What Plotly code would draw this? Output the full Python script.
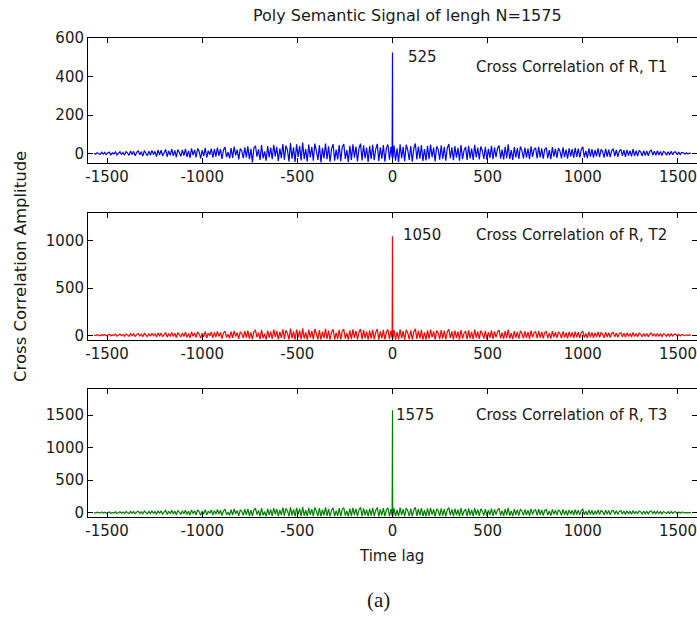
import plotly.graph_objects as go

W, H = 697, 617

# ---------------- data ----------------
title = "Poly Semantic Signal of lengh N=1575"
series_names = ["Cross Correlation of R, T1", "Cross Correlation of R, T2", "Cross Correlation of R, T3"]
peak_labels = ["525", "1050", "1575"]
colors = ["#0000ff", "#ff0000", "#008000"]

noise_left_lags = list(range(-1568, 0, 8))      # 196 lags
noise_right_lags = list(range(8, 1569, 8))      # 196 lags
center_lags = [-2, -1, 0, 1, 2]

t1_left = [2, -3, 5, 1, -4, 7, -2, 6, -5, 3, 8, -6, 4, -1, 9, -7, 5, 10, -4, 6,
           -8, 11, 3, -9, 14, -5, 12, -11, 7, 15, -6, 10, -13, 16, 2, -10, 13, -8, 17, -4,
           12, -15, 20, -7, 18, -12, 5, 22, -16, 14, -9, 24, -11, 17, -18, 21, 6, -14, 19, -10,
           25, -17, 15, -22, 28, -8, 20, -19, 27, 11, -24, 18, -13, 30, -20, 16, -6, 26, -21, 23,
           -15, 32, -11, 24, -27, 19, 34, -18, 8, -25, 29, -22, 36, -9, 21, -30, 27, 14, -23, 33,
           -19, 38, -28, 25, -45, 30, 41, -16, 22, -33, 44, -24, 12, -36, 39, -20, 31, -29, 46, -14,
           35, -38, 27, -22, 50, -31, 42, 18, -40, 55, -26, 33, -43, 48, -17, 39, -35, 57, -28, 24,
           -41, 47, -20, 36, -37, 52, 15, -33, 44, -45, 30, -24, 53, -29, 38, -42, 26, 49, -36, 21,
           -30, 45, -39, 34, 50, -27, 19, -44, 41, -32, 48, -21, 37, -40, 28, 52, -35, 43, -25, 31,
           -43, 39, -28, 46, -34, 24, 51, -38, 33, -26, 44, -41, 29, 47, -31, 36]
t1_center = [-20, 262, 525, 30, -25]
t1_right = [42, -36, 28, -44, 49, -23, 35, -39, 46, 19, -33, 40, -42, 27, 53, -30, 37, -26, 45, -38,
            24, -35, 41, -29, 47, -18, 32, -40, 38, 22, -31, 43, -27, 36, -37, 29, 50, -24, 33, -34,
            39, -21, 30, -36, 44, -28, 17, 35, -32, 41, -25, 27, -33, 46, -19, 31, -30, 38, 14, -27,
            36, -31, 25, -22, 40, -29, 33, -18, 28, 42, -26, 21, -30, 35, -23, 48, -28, 19, -32, 34,
            -20, 29, -27, 37, 16, -25, 32, -21, 26, -29, 38, -17, 23, 30, -24, 35, -19, 27, -26, 22,
            31, -23, 18, -28, 34, -15, 25, -22, 29, 13, -24, 33, -18, 21, -26, 28, -14, 24, -21, 30,
            -17, 26, -20, 22, 35, -19, 15, -23, 27, -16, 24, -21, 19, -14, 28, -18, 22, 11, -20, 25,
            -15, 21, -18, 17, 24, -13, 19, -16, 14, 22, -12, 18, -17, 20, -10, 16, -14, 23, -11, 15,
            -13, 17, 9, -12, 16, -10, 14, -11, 12, 18, -8, 13, -9, 15, -7, 11, -10, 12, 6, -8,
            10, -7, 12, -5, 8, 9, -6, 7, -4, 6, 5, -3, 4, -2, 3, 1]

t2_left = [3, -4, 7, 2, -5, 9, -3, 8, -6, 4, 11, -7, 6, -2, 12, -9, 7, 13, -5, 8,
           -10, 14, 4, -11, 18, -6, 15, -13, 9, 19, -8, 13, -16, 21, 3, -12, 17, -10, 22, -5,
           16, -19, 26, -9, 23, -15, 7, 29, -20, 18, -12, 31, -14, 22, -23, 27, 8, -18, 25, -13,
           32, -22, 19, -28, 36, -10, 26, -24, 35, 14, -30, 23, -17, 39, -26, 21, -8, 34, -27, 30,
           -19, 41, -14, 31, -34, 25, 44, -23, 10, -32, 38, -28, 46, -12, 27, -38, 35, 18, -30, 43,
           -25, 49, -36, 32, -42, 39, 53, -21, 28, -40, 57, -31, 16, -44, 50, -26, 40, -37, 59, -18,
           45, -43, 35, -28, 64, -39, 54, 23, -45, 70, -33, 42, -46, 61, -22, 50, -44, 73, -36, 31,
           -46, 60, -26, 46, -43, 67, 19, -42, 56, -47, 38, -31, 68, -37, 49, -45, 33, 63, -46, 27,
           -38, 58, -44, 44, 64, -35, 24, -47, 53, -41, 62, -27, 48, -45, 36, 67, -44, 55, -32, 40,
           -46, 50, -36, 59, -43, 31, 66, -47, 42, -33, 57, -45, 37, 60, -40, 46]
t2_center = [-30, 525, 1050, 45, -35]
t2_right = [54, -46, 36, -44, 63, -30, 45, -47, 59, 25, -42, 52, -45, 35, 68, -38, 48, -33, 58, -46,
            31, -45, 53, -37, 60, -23, 41, -46, 49, 28, -40, 55, -35, 46, -44, 37, 64, -31, 42, -43,
            50, -27, 39, -45, 56, -36, 22, 45, -41, 53, -32, 35, -42, 59, -25, 40, -39, 49, 18, -35,
            46, -40, 32, -28, 51, -37, 42, -23, 36, 54, -33, 27, -38, 45, -30, 61, -36, 24, -41, 44,
            -26, 37, -35, 47, 20, -32, 41, -27, 33, -37, 49, -22, 29, 38, -31, 45, -24, 35, -33, 28,
            40, -29, 23, -36, 43, -19, 32, -28, 37, 17, -31, 42, -23, 27, -33, 36, -18, 31, -27, 38,
            -22, 33, -26, 28, 45, -24, 19, -29, 35, -20, 31, -27, 24, -18, 36, -23, 28, 14, -26, 32,
            -19, 27, -23, 22, 31, -17, 24, -21, 18, 28, -15, 23, -22, 26, -13, 20, -18, 29, -14, 19,
            -16, 22, 12, -15, 20, -13, 18, -14, 15, 23, -10, 17, -12, 19, -9, 14, -13, 16, 8, -10,
            13, -9, 15, -7, 10, 12, -8, 9, -6, 8, 6, -4, 5, -3, 4, 2]

t3_left = [4, -5, 8, 2, -6, 11, -4, 10, -8, 5, 13, -9, 7, -3, 15, -11, 8, 16, -6, 10,
           -13, 18, 5, -14, 22, -8, 19, -16, 11, 24, -10, 17, -20, 26, 4, -15, 21, -13, 28, -7,
           20, -24, 32, -11, 29, -19, 9, 36, -25, 23, -15, 39, -18, 27, -29, 34, 10, -22, 31, -16,
           40, -28, 24, -35, 45, -13, 32, -30, 44, 18, -38, 29, -21, 48, -33, 26, -10, 42, -34, 37,
           -24, 51, -18, 39, -42, 31, 55, -29, 13, -40, 47, -35, 58, -15, 34, -47, 43, 22, -38, 54,
           -31, 61, -45, 40, -52, 48, 66, -26, 35, -50, 71, -39, 20, -54, 62, -33, 50, -46, 73, -22,
           56, -53, 44, -35, 80, -48, 67, 29, -55, 85, -41, 52, -56, 76, -28, 62, -54, 88, -45, 39,
           -56, 75, -32, 57, -53, 83, 24, -52, 70, -57, 47, -39, 84, -46, 61, -55, 41, 78, -56, 34,
           -47, 72, -54, 55, 80, -44, 30, -57, 66, -51, 77, -34, 60, -55, 45, 83, -54, 68, -40, 50,
           -56, 62, -45, 74, -53, 39, 82, -57, 52, -41, 71, -55, 46, 75, -50, 57]
t3_center = [-40, 790, 1575, 55, -45]
t3_right = [67, -56, 45, -54, 78, -37, 56, -57, 73, 31, -52, 65, -55, 44, 84, -47, 60, -41, 72, -56,
            39, -55, 66, -46, 75, -29, 51, -56, 61, 35, -50, 68, -43, 57, -54, 46, 79, -38, 52, -53,
            62, -34, 48, -55, 70, -45, 27, 56, -51, 66, -40, 44, -52, 73, -31, 50, -48, 61, 22, -43,
            57, -49, 40, -35, 63, -46, 52, -29, 45, 67, -41, 34, -47, 56, -37, 76, -45, 30, -51, 55,
            -32, 46, -43, 58, 25, -40, 51, -34, 41, -46, 61, -27, 36, 47, -38, 56, -30, 43, -41, 35,
            50, -36, 29, -45, 53, -24, 40, -35, 46, 21, -39, 52, -29, 34, -41, 45, -22, 38, -34, 47,
            -27, 41, -32, 35, 56, -30, 24, -36, 43, -25, 38, -33, 30, -22, 45, -28, 35, 17, -32, 40,
            -24, 34, -29, 27, 39, -21, 30, -26, 22, 35, -19, 28, -27, 32, -16, 25, -22, 36, -17, 24,
            -20, 27, 15, -19, 25, -16, 22, -17, 19, 28, -12, 21, -15, 24, -11, 18, -16, 20, 10, -12,
            16, -11, 19, -9, 13, 15, -10, 11, -7, 10, 8, -5, 6, -4, 5, 2]

x_ticks = [-1500, -1000, -500, 0, 500, 1000, 1500]
x_tick_text = ["-1500", "-1000", "-500", "0", "500", "1000", "1500"]
y_ticks = [[0, 200, 400, 600], [0, 500, 1000], [0, 500, 1000, 1500]]
y_ranges = [[-50, 600], [-50, 1300], [-60, 1900]]
x_range = [-1600, 1600]

series = [(t1_left, t1_center, t1_right), (t2_left, t2_center, t2_right), (t3_left, t3_center, t3_right)]

# ---------------- layout geometry (pixels) ----------------
def px(x):
    return x / W

def py(y):
    return 1 - y / H

x_dom = [px(88), 1.0]
y_doms = [[py(163.3), py(38)], [py(340), py(212.7)], [py(516.7), py(389)]]

FONT = "DejaVu Sans, Verdana, sans-serif"
TXT = "#1a1a1a"

fig = go.Figure()
for i, (left, center, right) in enumerate(series):
    lags = noise_left_lags + center_lags + noise_right_lags
    vals = left + center + right
    ax = "" if i == 0 else str(i + 1)
    fig.add_trace(go.Scatter(
        x=lags, y=vals, mode="lines",
        line=dict(color=colors[i], width=1.2),
        xaxis="x" + ax, yaxis="y" + ax, showlegend=False, hoverinfo="skip"))

axis_common = dict(showline=True, linecolor="black", linewidth=1, mirror="ticks",
                   ticks="inside", ticklen=5, tickcolor="black", showgrid=False, zeroline=False,
                   automargin=False, ticklabeloverflow="allow",
                   tickfont=dict(family=FONT, size=15, color=TXT))

layout = dict(width=W, height=H, margin=dict(l=0, r=0, t=0, b=0), autosize=False,
              paper_bgcolor="white", plot_bgcolor="white", showlegend=False)
for i in range(3):
    ax = "" if i == 0 else str(i + 1)
    layout["xaxis" + ax] = dict(axis_common, domain=x_dom, range=x_range, tickvals=x_ticks,
                                ticktext=x_tick_text, anchor="y" + ax)
    layout["yaxis" + ax] = dict(axis_common, domain=y_doms[i], range=y_ranges[i], tickvals=y_ticks[i],
                                ticktext=[str(v) for v in y_ticks[i]], anchor="x" + ax)
fig.update_layout(**layout)

ann = []
def text(x, y, s, size=15, xanchor="center", family=FONT, angle=0):
    ann.append(dict(x=px(x), y=py(y), xref="paper", yref="paper", text=s, showarrow=False,
                    xanchor=xanchor, yanchor="middle", textangle=angle,
                    font=dict(family=family, size=size, color=TXT)))

text(407, 16, title, size=16)
label_pos = [(57, 67), (235, 235), (415, 415)]
peak_x = [406, 401, 394]
for i in range(3):
    text(peak_x[i], label_pos[i][0], peak_labels[i], xanchor="left")
    text(571, label_pos[i][1], series_names[i])
text(20, 267, "Cross Correlation Amplitude", size=16.5, angle=-90)
text(391, 556, "Time lag")
text(378, 600, "(a)", size=21, family="Liberation Serif, Times New Roman, serif")
fig.update_layout(annotations=ann)

fig.write_html("out.html", config={"responsive": False, "displayModeBar": False},
               post_script="document.body.style.margin='0px';document.body.style.overflow='hidden';")
